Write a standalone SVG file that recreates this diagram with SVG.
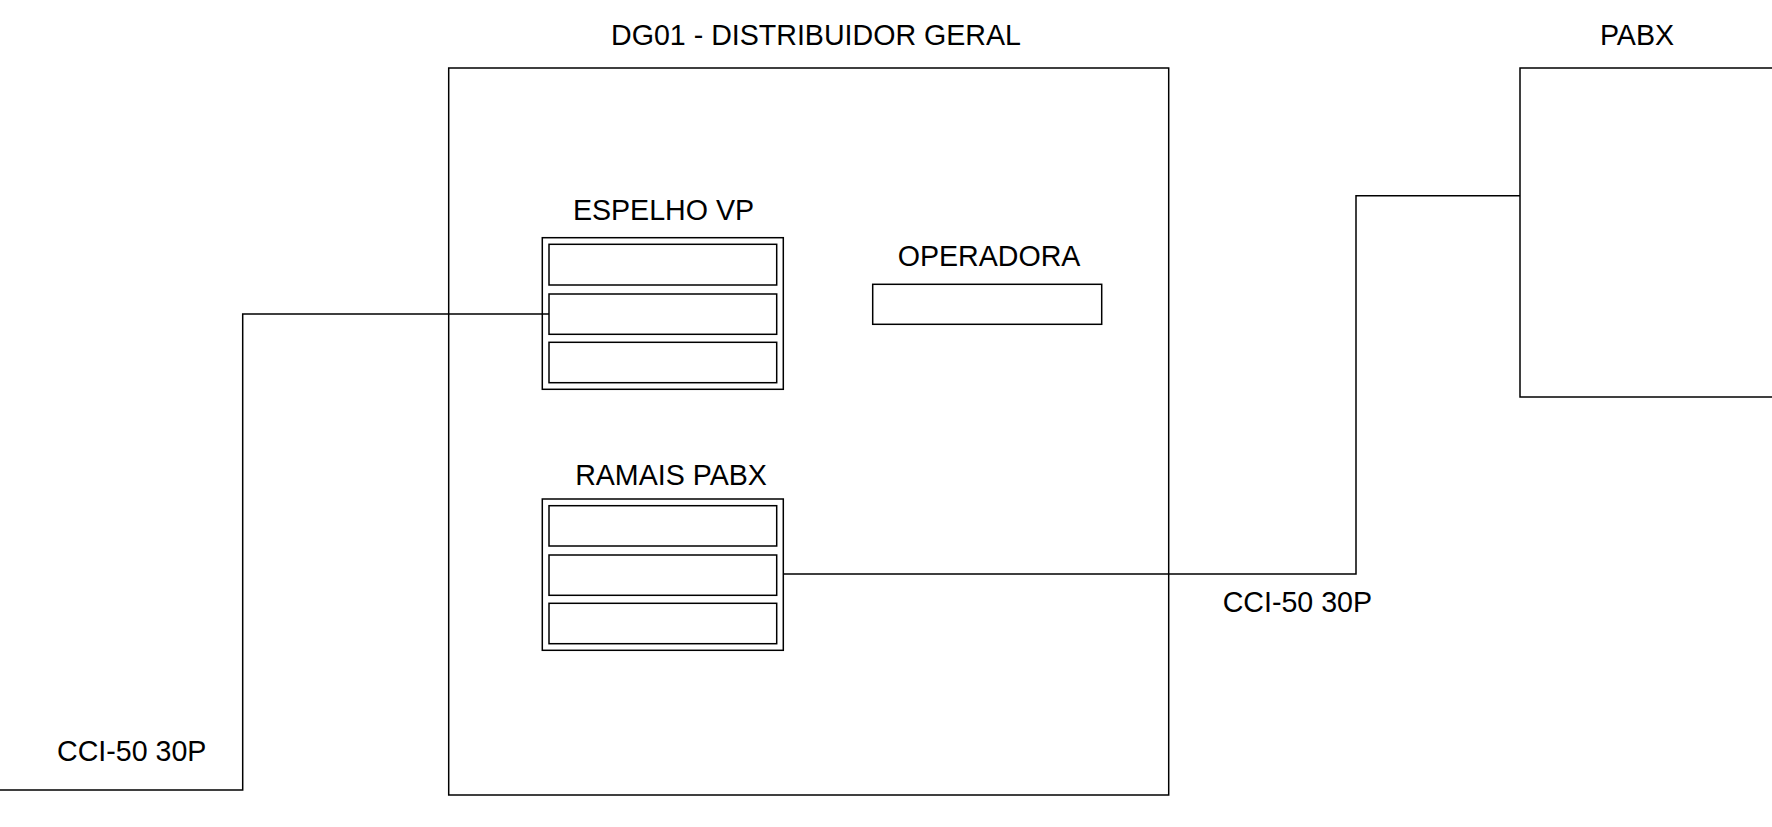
<svg xmlns="http://www.w3.org/2000/svg" width="1772" height="827" viewBox="0 0 1772 827">
<style>
.box{fill:#ffffff;stroke:#000000;stroke-width:1.5}
.wire{fill:none;stroke:#000000;stroke-width:1.5}
.lbl{font-family:"Liberation Sans",Arial,sans-serif;font-size:28.6px;fill:#000000}
.c{text-anchor:middle}
</style>
<rect width="1772" height="827" fill="#ffffff"/>
<g id="dg01">
<rect class="box" x="448.7" y="68" width="720" height="727"/>
<text class="lbl c" x="816" y="45">DG01 - DISTRIBUIDOR GERAL</text>
</g>
<g id="pabx">
<rect class="box" x="1520" y="68" width="280" height="329"/>
<text class="lbl c" x="1637" y="45">PABX</text>
</g>
<g id="espelho-vp">
<rect class="box" x="542.3" y="237.7" width="241" height="151.6"/>
<rect class="box" x="549" y="244.3" width="227.7" height="40.7"/>
<rect class="box" x="549" y="294" width="227.7" height="40.3"/>
<rect class="box" x="549" y="342.3" width="227.7" height="40.4"/>
<text class="lbl c" x="663.5" y="220">ESPELHO VP</text>
</g>
<g id="operadora">
<rect class="box" x="872.7" y="284.3" width="229" height="40"/>
<text class="lbl c" x="989" y="266">OPERADORA</text>
</g>
<g id="ramais-pabx">
<rect class="box" x="542.3" y="499" width="241" height="151.3"/>
<rect class="box" x="549" y="505.7" width="227.7" height="40.3"/>
<rect class="box" x="549" y="555" width="227.7" height="40.3"/>
<rect class="box" x="549" y="603.3" width="227.7" height="40.4"/>
<text class="lbl c" x="671" y="485">RAMAIS PABX</text>
</g>
<g id="connectors">
<polyline class="wire" points="0,790 242.7,790 242.7,314 549,314"/>
<polyline class="wire" points="783.3,574 1356,574 1356,195.7 1520,195.7"/>
<text class="lbl" x="57" y="760.5">CCI-50 30P</text>
<text class="lbl" x="1222.7" y="611.5">CCI-50 30P</text>
</g>
</svg>
